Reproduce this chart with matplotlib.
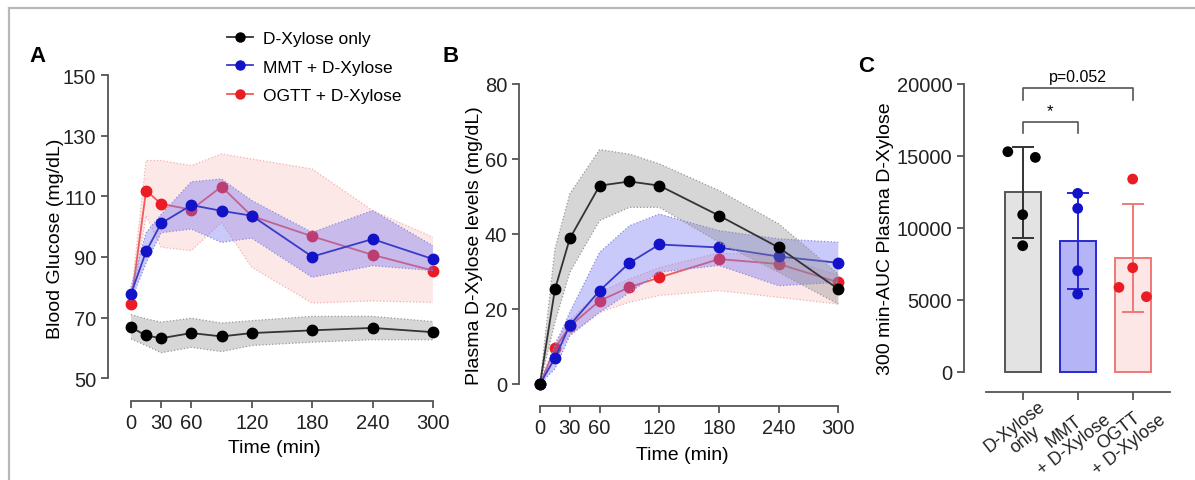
import matplotlib
matplotlib.use("Agg")
import matplotlib.pyplot as plt
from matplotlib.lines import Line2D
import matplotlib.transforms as mtransforms
import numpy as np

plt.rcParams['font.family'] = ['Liberation Sans', 'DejaVu Sans']

# ---------------- data ----------------
time = [0, 15, 30, 60, 90, 120, 180, 240, 300]
time_ticks = [0, 30, 60, 120, 180, 240, 300]

# Panel A: blood glucose (mg/dL)
glu_xyl = [66.8, 64.1, 63.2, 64.9, 63.8, 64.9, 65.8, 66.6, 65.2]
glu_xyl_hi = [71.0, 69.6, 68.5, 69.8, 68.2, 69.0, 70.4, 70.4, 68.7]
glu_xyl_lo = [63.0, 60.8, 58.4, 60.2, 58.8, 60.8, 61.9, 62.7, 62.7]

glu_mmt = [77.8, 91.8, 101.1, 107.1, 105.2, 103.6, 90.1, 95.9, 89.3]
glu_mmt_hi = [80.0, 98.0, 104.0, 114.8, 115.7, 108.6, 98.1, 105.3, 93.7]
glu_mmt_lo = [75.5, 88.0, 98.0, 99.2, 94.8, 96.2, 83.3, 87.1, 85.5]

glu_ogtt = [74.5, 111.9, 107.5, 105.6, 113.2, 103.5, 96.8, 90.7, 85.5]
glu_ogtt_hi = [76.5, 121.8, 121.8, 120.1, 124.0, 122.3, 119.0, 105.3, 96.5]
glu_ogtt_lo = [72.5, 103.6, 93.2, 92.1, 101.4, 86.6, 74.8, 75.5, 75.0]

# Panel B: plasma D-xylose (mg/dL)
xyl_xyl = [0, 25.2, 38.8, 52.9, 54.0, 52.9, 44.9, 36.4, 25.3]
xyl_xyl_hi = [0, 36.0, 50.7, 62.5, 61.3, 58.7, 51.6, 42.7, 29.3]
xyl_xyl_lo = [0, 16.4, 29.8, 43.6, 47.1, 47.1, 37.8, 29.8, 21.3]

xyl_mmt = [0, 6.9, 15.7, 24.9, 32.3, 37.2, 36.4, 34.0, 32.3]
xyl_mmt_hi = [0, 10.2, 19.1, 35.1, 42.2, 45.3, 40.9, 38.7, 37.8]
xyl_mmt_lo = [0, 4.0, 12.9, 19.1, 24.4, 29.8, 31.6, 26.2, 27.1]

xyl_ogtt = [0, 9.5, 15.4, 22.2, 25.8, 28.4, 33.3, 32.0, 27.1]
xyl_ogtt_hi = [0, 11.0, 17.0, 24.5, 28.0, 31.0, 35.0, 34.0, 29.0]
xyl_ogtt_lo = [0, 8.0, 13.0, 19.1, 21.8, 23.6, 24.9, 23.1, 21.3]

# Panel C: AUC
groups = ["D-Xylose\nonly", "MMT\n+ D-Xylose", "OGTT\n+ D-Xylose"]
auc_mean = [12466, 9071, 7925]
auc_sd = [3175, 3325, 3753]
auc_pts_xyl = [15292, 14898, 10913, 8758]
auc_pts_mmt = [12396, 11353, 7020, 5398]
auc_pts_ogtt = [13392, 7229, 5862, 5213]
auc_jitter_xyl = [-0.27, 0.23, 0.0, 0.0]
auc_jitter_mmt = [0.0, 0.0, 0.0, 0.0]
auc_jitter_ogtt = [0.0, 0.0, -0.25, 0.25]

series_labels = ["D-Xylose only", "MMT + D-Xylose", "OGTT + D-Xylose"]

# ---------------- style ----------------
W, H = 1195, 481
fig = plt.figure(figsize=(W / 100, H / 100), dpi=100)

def ax_px(left, top, right, bottom):
    return fig.add_axes([left / W, 1 - bottom / H, (right - left) / W, (bottom - top) / H])

spine_c = '#555555'
BLACK = '#000000'
BLUE = '#1212c8'
RED = '#ea1c24'
tick_fs = 14.5
lab_fs = 14

def style_axes(ax, xb, yb):
    for s in ['top', 'right']:
        ax.spines[s].set_visible(False)
    for s in ['left', 'bottom']:
        ax.spines[s].set_color(spine_c)
        ax.spines[s].set_linewidth(1.3)
    ax.spines['bottom'].set_bounds(*xb)
    ax.spines['left'].set_bounds(*yb)
    ax.tick_params(axis='both', colors=spine_c, width=1.3, length=5, labelsize=tick_fs,
                   labelcolor='#222222', direction='out')

def band(ax, x, lo, hi, fc, ec, z):
    ax.fill_between(x, lo, hi, facecolor=fc, edgecolor='none', zorder=z)
    ax.plot(x, hi, color=ec, lw=0.9, ls=':', zorder=z)
    ax.plot(x, lo, color=ec, lw=0.9, ls=':', zorder=z)

def series(ax, x, y, lc, mc, z):
    ax.plot(x, y, color=lc, lw=1.3, zorder=z, marker='o', ms=7.5, mfc=mc, mec=mc)

# ---------------- Panel A ----------------
axA = ax_px(108, 76, 440, 402)
axA.set_xlim(-22.8, 307)
axA.set_ylim(42.5, 150)
band(axA, time, glu_ogtt_lo, glu_ogtt_hi, (0.99, 0.80, 0.80, 0.45), '#f4b0b0', 1)
series(axA, time, glu_ogtt, '#ef5a5a', RED, 2)
band(axA, time, glu_mmt_lo, glu_mmt_hi, (0.45, 0.45, 0.95, 0.38), '#8c8ce0', 3)
series(axA, time, glu_mmt, '#3a3ac8', BLUE, 4)
band(axA, time, glu_xyl_lo, glu_xyl_hi, (0.55, 0.55, 0.55, 0.35), '#999999', 5)
series(axA, time, glu_xyl, '#333333', BLACK, 6)
style_axes(axA, (0, 300), (50, 150))
axA.set_xticks(time_ticks)
axA.set_yticks([50, 70, 90, 110, 130, 150])
axA.set_xlabel("Time (min)", fontsize=lab_fs, labelpad=5)
axA.set_ylabel("Blood Glucose (mg/dL)", fontsize=lab_fs, labelpad=-1)

# ---------------- Panel B ----------------
axB = ax_px(519, 85, 845, 406.7)
axB.set_xlim(-21.1, 306.7)
axB.set_ylim(-5.8, 80)
band(axB, time, xyl_ogtt_lo, xyl_ogtt_hi, (0.99, 0.80, 0.80, 0.45), '#f4b0b0', 1)
series(axB, time, xyl_ogtt, '#ef5a5a', RED, 2)
band(axB, time, xyl_mmt_lo, xyl_mmt_hi, (0.45, 0.45, 0.95, 0.38), '#8c8ce0', 3)
series(axB, time, xyl_mmt, '#3a3ac8', BLUE, 4)
band(axB, time, xyl_xyl_lo, xyl_xyl_hi, (0.55, 0.55, 0.55, 0.35), '#999999', 5)
series(axB, time, xyl_xyl, '#333333', BLACK, 6)
style_axes(axB, (0, 300), (0, 80))
axB.set_xticks(time_ticks)
axB.set_yticks([0, 20, 40, 60, 80])
axB.set_xlabel("Time (min)", fontsize=lab_fs, labelpad=7)
axB.set_ylabel("Plasma D-Xylose levels (mg/dL)", fontsize=lab_fs, labelpad=1)

# ---------------- Panel C ----------------
axC = ax_px(964, 85, 1172, 393)
axC.set_xlim(-1.067, 2.715)
axC.set_ylim(-1411, 20000)
pos = np.arange(len(groups))
bar_fc = ['#e3e3e3', '#b4b4f6', '#fde6e6']
bar_ec = ['#555555', '#2a2ad0', '#f07878']
err_c = ['#333333', '#2a2ad0', '#f07878']
pt_c = [BLACK, BLUE, RED]
pts = [auc_pts_xyl, auc_pts_mmt, auc_pts_ogtt]
jit = [auc_jitter_xyl, auc_jitter_mmt, auc_jitter_ogtt]
for i in range(len(groups)):
    axC.bar(pos[i], auc_mean[i], width=0.66, color=bar_fc[i], edgecolor=bar_ec[i],
            linewidth=1.4, zorder=1)
    axC.errorbar(pos[i], auc_mean[i], yerr=auc_sd[i], color=err_c[i], capsize=8,
                 elinewidth=1.4, capthick=1.4, zorder=2)
    axC.scatter(pos[i] + np.array(jit[i]), pts[i], s=60, color=pt_c[i], zorder=3, edgecolors='none')
style_axes(axC, (-0.67, 2.68), (0, 20000))
axC.set_yticks([0, 5000, 10000, 15000, 20000])
axC.set_xticks(pos)
axC.set_xticklabels([])
axC.tick_params(axis='x', length=6, pad=2)
# category labels, drawn as rotated texts anchored below each tick
lab_tr = axC.get_xaxis_transform() + mtransforms.ScaledTranslation(15 / 100, -5 / 100, fig.dpi_scale_trans)
for i, g in enumerate(groups):
    axC.text(pos[i], 0, g, transform=lab_tr, rotation=38, ha='right', va='top',
             rotation_mode='anchor', fontsize=12.8, multialignment='center', color='#222222',
             clip_on=False, linespacing=1.0)
axC.set_ylabel("300 min-AUC Plasma D-Xylose", fontsize=lab_fs, labelpad=2)

# significance brackets
axC.plot([0, 0, 1, 1], [16590, 17380, 17380, 16590], color=spine_c, lw=1.2, clip_on=False)
axC.text(0.5, 17600, "*", ha='center', va='bottom', fontsize=12)
axC.plot([0, 0, 2, 2], [18880, 19700, 19700, 18880], color=spine_c, lw=1.2, clip_on=False)
axC.text(1.0, 20000, "p=0.052", ha='center', va='bottom', fontsize=11.5)

# ---------------- legend ----------------
handles = [Line2D([0], [0], color=c, lw=1.3, marker='o', ms=6.5, mfc=m, mec=m)
           for c, m in [('#333333', BLACK), ('#3a3ac8', BLUE), ('#ef5a5a', RED)]]
fig.legend(handles, series_labels, loc='upper left', bbox_to_anchor=(218 / W, 1 - 23 / H),
           frameon=False, fontsize=12.5, handlelength=1.5, handletextpad=0.6,
           labelspacing=0.78, borderpad=0)

# ---------------- panel letters ----------------
fig.text(29 / W, 1 - 62 / H, "A", fontsize=16, fontweight='bold', ha='left', va='baseline')
fig.text(443 / W, 1 - 62 / H, "B", fontsize=16, fontweight='bold', ha='left', va='baseline')
fig.text(858 / W, 1 - 72 / H, "C", fontsize=16, fontweight='bold', ha='left', va='baseline')

# frame lines (top and left)
fig.add_artist(Line2D([9 / W, 1], [1 - 9 / H, 1 - 9 / H], color='#b8b8b8', lw=1.6,
                      transform=fig.transFigure))
fig.add_artist(Line2D([9 / W, 9 / W], [0, 1 - 9 / H], color='#b8b8b8', lw=1.6,
                      transform=fig.transFigure))

fig.savefig("out.png", dpi=100)
